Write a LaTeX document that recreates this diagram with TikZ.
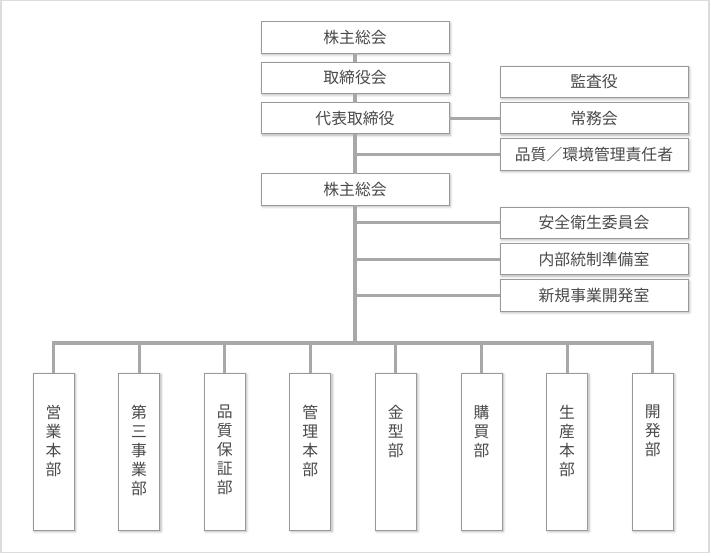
\documentclass[tikz,border=0pt]{standalone}
\usepackage{fontspec}
\setmainfont{Noto Sans CJK JP}
\usetikzlibrary{positioning, shadows.blur}
\definecolor{boxline}{HTML}{999999}
\definecolor{linkline}{HTML}{A8A8A8}
\definecolor{inktext}{HTML}{4A4A4A}
\definecolor{frameline}{HTML}{DCDCDC}

\begin{document}
\begin{tikzpicture}[
  node distance=0.27cm and 1.53cm,
  post/.style={draw=boxline, line width=0.7pt, fill=white, text=inktext,
    font=\fontsize{13.5}{16.2}\selectfont, inner sep=0pt, outer sep=0pt,
    blur shadow={shadow xshift=1.2pt, shadow yshift=-1.2pt,
      shadow blur steps=6, shadow opacity=30}},
  wide/.style={post, minimum width=5.64cm, minimum height=0.94cm},
  dept/.style={post, minimum width=1.23cm, minimum height=4.71cm},
  vlabel/.style={anchor=north, yshift=-0.96cm, align=center, inner sep=0pt,
    text=inktext, font=\fontsize{13.5}{16.2}\selectfont},
  link/.style={draw=linkline, line width=2.6pt}
]
  \useasboundingbox (0,0) rectangle (21.33,-16.65);
  \draw[frameline, line width=0.9pt] (0.03,-0.015) rectangle (21.27,-16.575);

  % upper part
  \node[wide] (agm1) at (10.65,-1.125) {株主総会};
  \node[wide, below=of agm1] (board) {取締役会};
  \node[wide, below=of board] (ceo) {代表取締役};
  \node[wide, right=of ceo] (execs) {常務会};
  \node[wide, above=0.15cm of execs] (audit) {監査役};
  \node[wide, below=0.15cm of execs] (qem) {品質／環境管理責任者};
  \node[wide, below=1.2cm of ceo] (agm2) {株主総会};
  \node[wide, below=1.11cm of qem] (safety) {安全衛生委員会};
  \node[wide, below=0.15cm of safety] (control) {内部統制準備室};
  \node[wide, below=0.15cm of control] (newbiz) {新規事業開発室};

  % departments
  \coordinate (bus) at (0,-10.29);
  \node[dept, label={[vlabel]north:{営\\業\\本\\部}}] (d1) at (1.605,-13.545) {};
  \node[dept, right=1.338cm of d1, label={[vlabel]north:{第\\三\\事\\業\\部}}] (d2) {};
  \node[dept, right=1.338cm of d2, label={[vlabel]north:{品\\質\\保\\証\\部}}] (d3) {};
  \node[dept, right=1.338cm of d3, label={[vlabel]north:{管\\理\\本\\部}}] (d4) {};
  \node[dept, right=1.338cm of d4, label={[vlabel]north:{金\\型\\部}}] (d5) {};
  \node[dept, right=1.338cm of d5, label={[vlabel]north:{購\\買\\部}}] (d6) {};
  \node[dept, right=1.338cm of d6, label={[vlabel]north:{生\\産\\本\\部}}] (d7) {};
  \node[dept, right=1.338cm of d7, label={[vlabel]north:{開\\発\\部}}] (d8) {};

  \draw[link] (agm1) -- (board);
  \draw[link] (board) -- (ceo);
  \draw[link] (ceo) -- (execs);
  \draw[link] (ceo) -- (agm2);
  \draw[link] (ceo.south |- qem) -- (qem);
  \draw[link] (agm2) -- (agm2.south |- bus);
  \draw[link] (agm2.south |- safety) -- (safety);
  \draw[link] (agm2.south |- control) -- (control);
  \draw[link] (agm2.south |- newbiz) -- (newbiz);
  \draw[link] (d1) -- (d1.north |- bus) -- (d8.north |- bus) -- (d8);
  \draw[link] (d2) -- (d2.north |- bus);
  \draw[link] (d3) -- (d3.north |- bus);
  \draw[link] (d4) -- (d4.north |- bus);
  \draw[link] (d5) -- (d5.north |- bus);
  \draw[link] (d6) -- (d6.north |- bus);
  \draw[link] (d7) -- (d7.north |- bus);
\end{tikzpicture}
\end{document}
